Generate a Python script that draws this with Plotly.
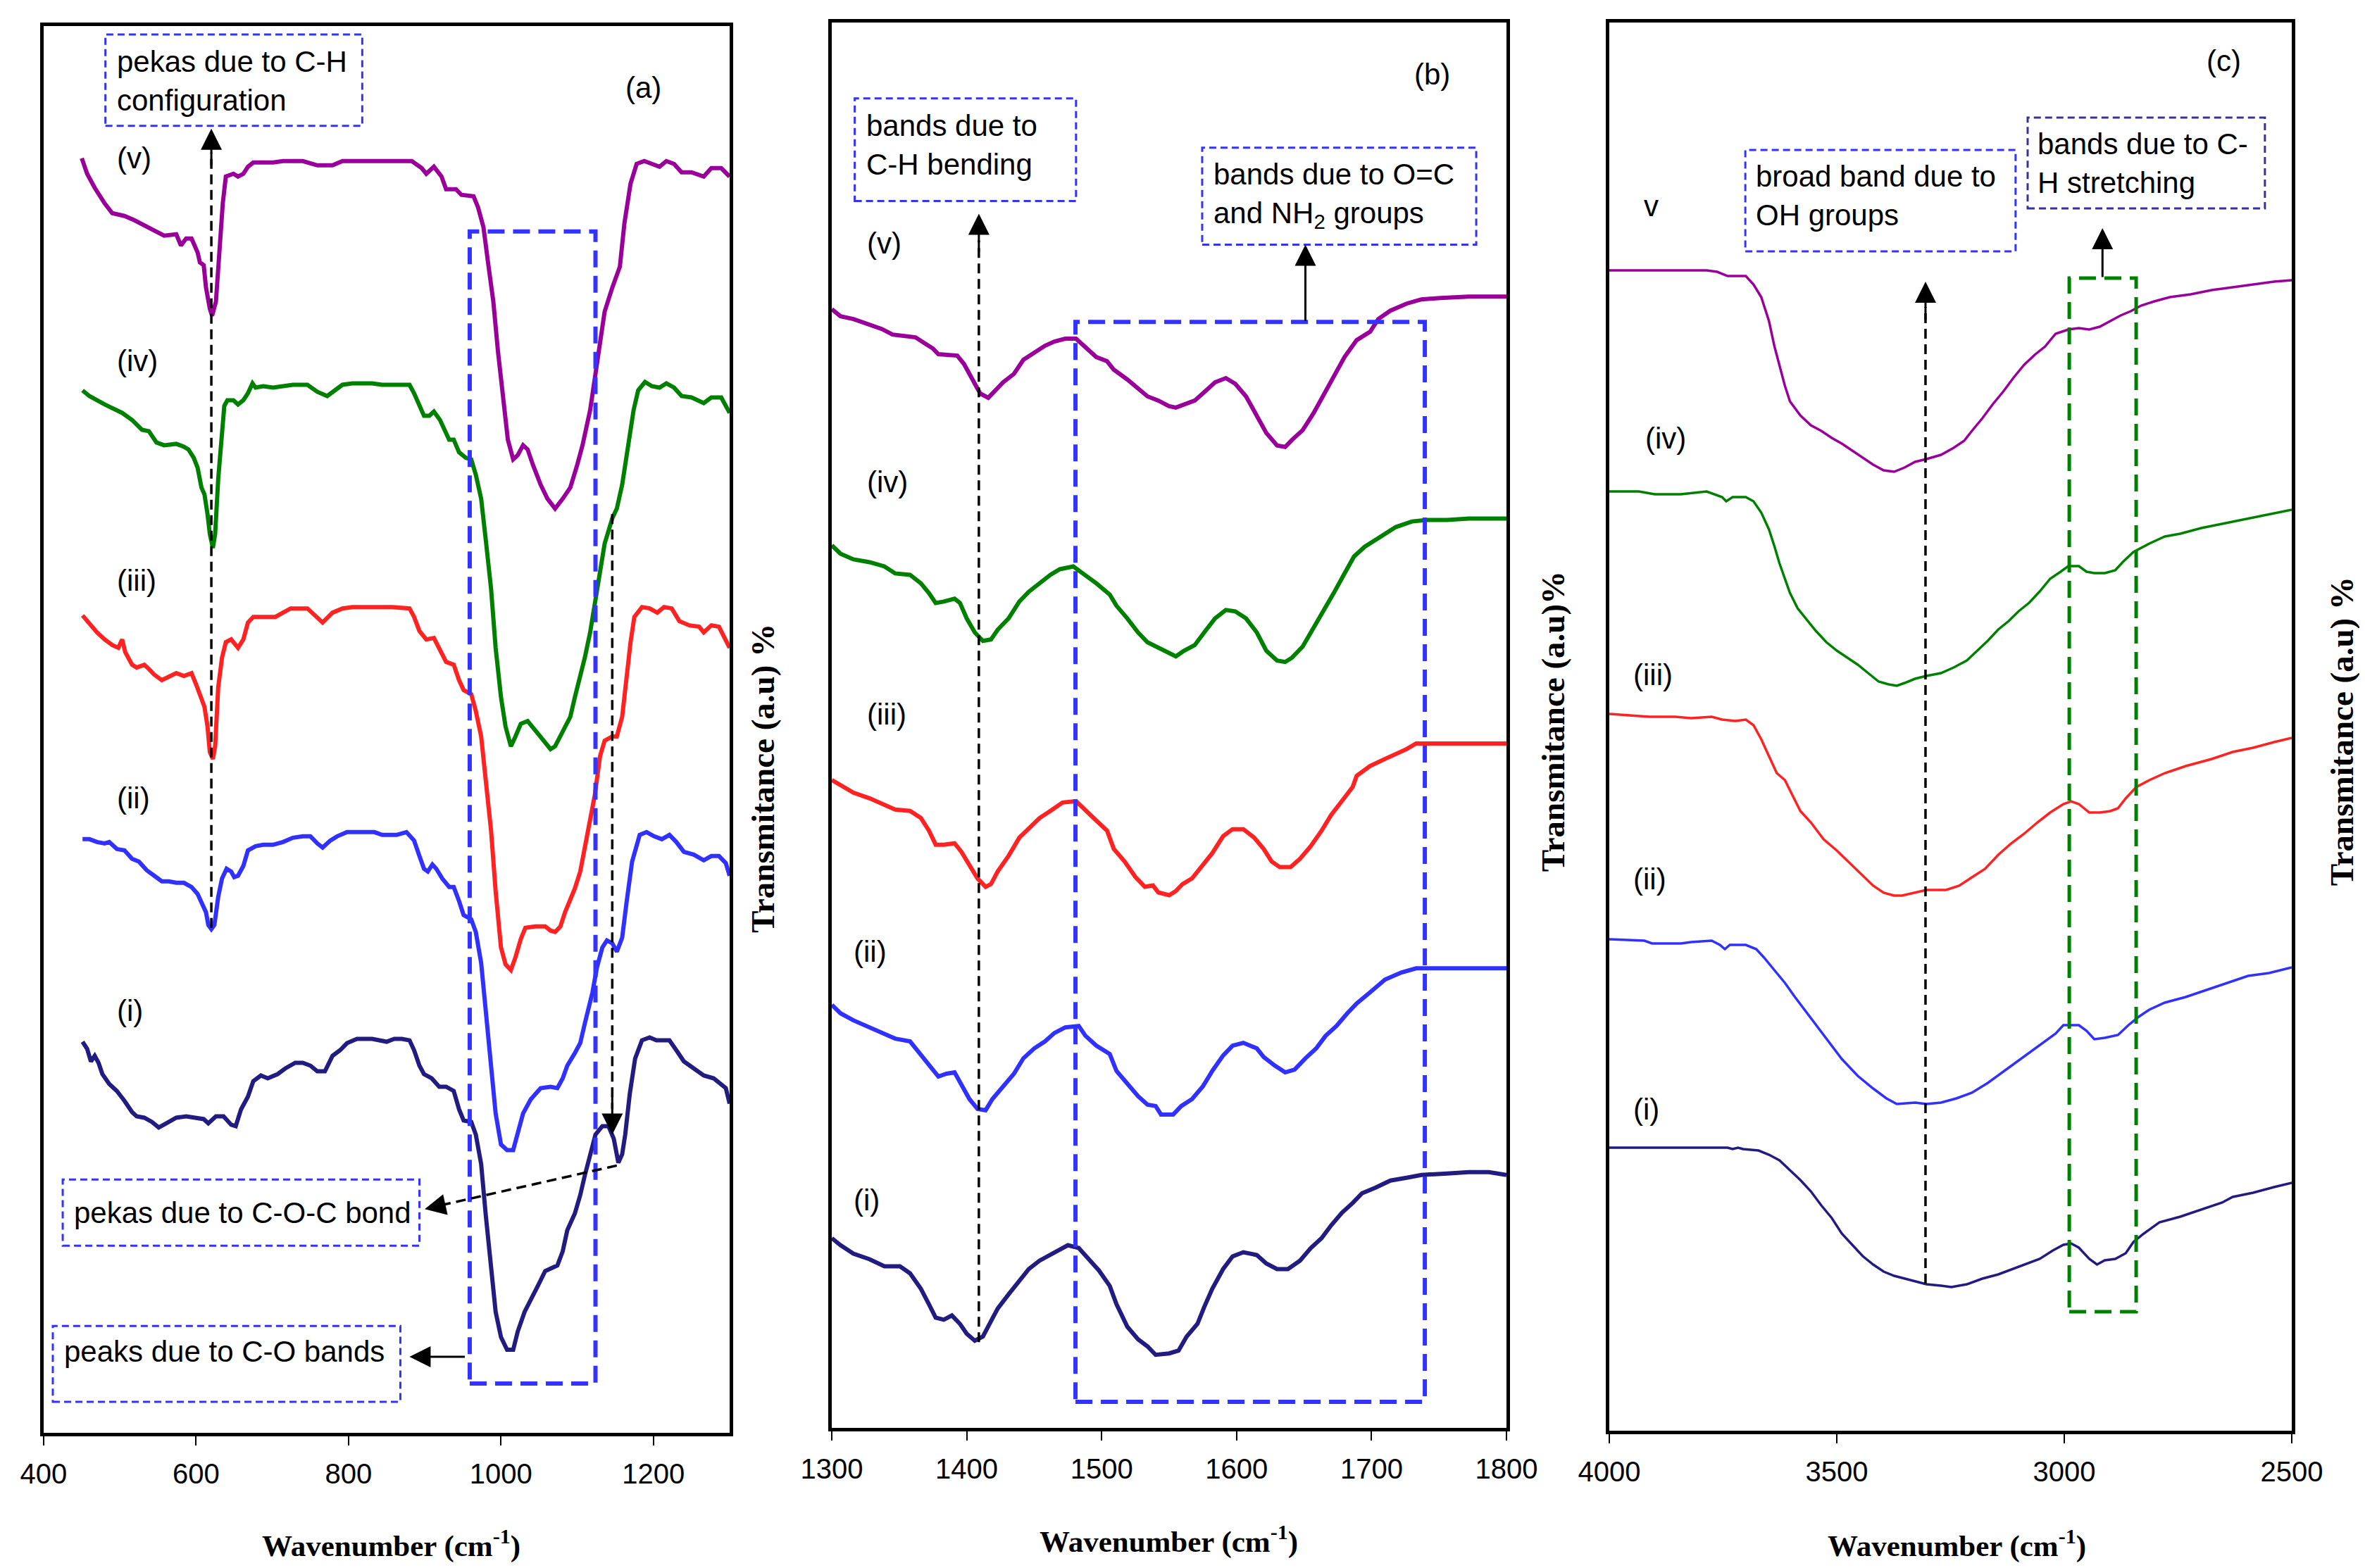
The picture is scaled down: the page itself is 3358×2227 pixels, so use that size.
import plotly.graph_objects as go

W, H = 3358, 2227

PURPLE = "#990099"
GREEN = "#008000"
RED = "#FF2222"
BLUE = "#3030FF"
NAVY = "#221C80"
BOXBLUE = "#3333FF"

# ---------------- panel (a): 400-1300 cm-1 ----------------
A5_X = [450, 457, 467, 480, 490, 506, 519, 538, 558, 574, 580, 587, 594, 602, 605, 610, 613, 618, 621, 626,
        631, 635, 639, 649, 655, 662, 668, 675, 701, 714, 740, 759, 779, 792, 805, 857, 883, 896, 902, 912,
        922, 928, 941, 948, 964, 970, 977, 983, 990, 996, 1003, 1009, 1016, 1022, 1029, 1035, 1042, 1052, 1061, 1071,
        1081, 1091, 1100, 1107, 1117, 1126, 1136, 1146, 1156, 1162, 1170, 1178, 1188, 1198, 1208, 1217, 1227, 1237, 1250, 1266,
        1276, 1289, 1300]
A5_Y = [90.6, 89.5, 88.5, 87.4, 86.7, 86.5, 86.2, 85.7, 85.1, 85.2, 84.4, 84.9, 84.9, 83.9, 83.2, 83.0, 81.4, 79.9, 79.4, 80.4,
        84.6, 87.4, 89.3, 89.5, 89.3, 89.5, 90.0, 90.3, 90.3, 90.4, 90.4, 90.1, 90.1, 90.4, 90.4, 90.4, 90.4, 89.9, 89.5, 90.0,
        89.3, 88.4, 88.4, 88.0, 87.9, 87.1, 85.7, 83.2, 80.4, 76.9, 73.4, 70.6, 69.2, 69.5, 70.2, 69.9, 68.8, 67.4, 66.4, 65.7,
        66.4, 67.2, 68.8, 70.2, 72.7, 76.2, 79.7, 81.4, 82.9, 86.0, 88.8, 90.2, 90.4, 90.2, 90.0, 90.4, 90.2, 89.6, 89.6, 89.3,
        89.9, 89.9, 89.3]

A4_X = [451, 460, 480, 503, 516, 529, 538, 548, 558, 574, 584, 590, 597, 602, 607, 611, 615, 618, 622, 625,
        629, 633, 637, 641, 649, 655, 662, 668, 674, 678, 688, 701, 714, 727, 746, 759, 772, 782, 792, 805,
        831, 844, 870, 880, 886, 893, 899, 906, 912, 920, 927, 932, 938, 945, 954, 961, 967, 974, 980, 987,
        993, 1000, 1006, 1013, 1019, 1026, 1035, 1045, 1055, 1065, 1071, 1081, 1091, 1097, 1104, 1110, 1117, 1123, 1130, 1136,
        1146, 1152, 1159, 1163, 1169, 1174, 1180, 1189, 1198, 1208, 1217, 1227, 1237, 1250, 1266, 1276, 1289, 1300]
A4_Y = [74.1, 73.7, 73.1, 72.5, 72.0, 71.3, 71.2, 70.4, 70.2, 70.3, 70.1, 69.9, 69.3, 68.6, 67.2, 66.7, 65.3, 63.9, 62.9, 63.9,
        67.8, 70.6, 73.0, 73.4, 73.4, 73.1, 73.4, 73.9, 74.6, 74.3, 74.4, 74.3, 74.4, 74.5, 74.5, 74.0, 73.7, 74.1, 74.5, 74.6,
        74.6, 74.5, 74.5, 74.5, 73.9, 73.0, 72.3, 72.3, 72.6, 72.0, 71.2, 70.6, 70.6, 69.7, 69.3, 69.2, 68.1, 66.4, 63.5, 60.0,
        55.8, 52.3, 50.2, 48.8, 49.5, 50.4, 50.6, 49.9, 49.2, 48.6, 48.8, 49.9, 50.9, 52.3, 53.7, 55.1, 56.9, 59.0, 61.4, 63.2,
        65.0, 65.7, 67.4, 68.8, 70.9, 72.7, 74.1, 74.7, 74.4, 74.3, 74.6, 74.3, 73.7, 73.6, 73.2, 73.6, 73.6, 72.5]

A3_X = [451, 460, 470, 480, 490, 498, 503, 507, 516, 522, 532, 538, 545, 555, 564, 574, 584, 594, 600, 607,
        611, 615, 618, 622, 625, 629, 634, 639, 646, 655, 662, 668, 675, 688, 704, 714, 724, 737, 746, 756,
        766, 779, 792, 805, 857, 880, 886, 893, 902, 912, 920, 928, 938, 945, 951, 961, 967, 974, 980, 987,
        993, 1000, 1006, 1013, 1019, 1026, 1032, 1045, 1058, 1065, 1071, 1078, 1084, 1091, 1097, 1104, 1110, 1117, 1123, 1130,
        1136, 1146, 1152, 1159, 1165, 1170, 1175, 1185, 1195, 1205, 1214, 1224, 1234, 1247, 1260, 1266, 1276, 1286, 1300]
A3_Y = [58.1, 57.5, 56.9, 56.4, 56.0, 55.8, 56.4, 55.5, 54.6, 54.4, 54.6, 54.3, 53.9, 53.5, 53.7, 54.0, 53.8, 54.0, 53.2, 52.3,
        51.6, 50.2, 48.4, 47.9, 48.8, 53.0, 55.1, 56.2, 56.4, 55.8, 56.4, 57.6, 58.0, 58.0, 58.0, 58.3, 58.6, 58.6, 58.6, 58.1,
        57.6, 58.3, 58.6, 58.7, 58.7, 58.6, 58.0, 57.0, 56.4, 56.5, 55.6, 54.8, 54.6, 53.5, 52.8, 52.5, 51.3, 49.5, 46.4, 42.8,
        38.5, 34.5, 33.3, 32.9, 33.8, 35.1, 35.9, 36.0, 36.0, 35.7, 35.6, 36.0, 37.0, 37.9, 38.7, 39.9, 41.7, 43.5, 45.3, 48.1,
        49.2, 49.5, 49.5, 50.9, 54.1, 56.2, 58.0, 58.7, 58.6, 58.3, 58.7, 58.6, 57.7, 57.4, 57.3, 56.9, 57.4, 57.3, 55.8]

A2_X = [451, 460, 470, 480, 486, 496, 506, 516, 525, 535, 545, 555, 564, 574, 584, 594, 602, 609, 613, 616,
        620, 624, 629, 634, 640, 646, 650, 655, 662, 668, 678, 688, 701, 714, 727, 740, 750, 759, 766, 776,
        785, 798, 818, 834, 844, 863, 876, 886, 893, 899, 904, 910, 915, 923, 932, 938, 945, 951, 961, 967,
        974, 980, 987, 993, 1000, 1008, 1016, 1022, 1029, 1039, 1052, 1065, 1074, 1081, 1087, 1097, 1104, 1110, 1120, 1126,
        1133, 1139, 1146, 1152, 1159, 1165, 1172, 1182, 1191, 1201, 1211, 1221, 1230, 1240, 1253, 1266, 1276, 1286, 1295, 1300]
A2_Y = [42.2, 42.2, 42.0, 41.9, 42.0, 41.5, 41.4, 40.8, 40.6, 40.0, 39.6, 39.2, 39.2, 39.1, 39.1, 38.8, 38.3, 37.4, 37.0, 36.1,
        35.8, 36.1, 38.1, 39.4, 40.1, 39.9, 39.5, 39.6, 40.3, 41.4, 41.7, 41.8, 41.8, 42.0, 42.3, 42.4, 42.4, 41.9, 41.6, 42.1,
        42.4, 42.7, 42.7, 42.7, 42.5, 42.5, 42.7, 42.1, 41.0, 40.1, 39.9, 40.4, 40.1, 39.4, 38.8, 38.8, 37.8, 36.8, 36.5, 35.6,
        33.4, 30.2, 26.2, 22.7, 20.5, 20.1, 20.1, 21.2, 22.7, 23.7, 24.5, 24.6, 24.5, 25.2, 26.1, 27.0, 27.7, 29.1, 31.3, 33.1,
        34.5, 35.0, 34.8, 34.2, 35.2, 37.8, 40.6, 42.5, 42.7, 42.4, 42.2, 42.5, 42.0, 41.3, 41.1, 40.7, 41.0, 41.0, 40.5, 39.6]

A1_X = [451, 457, 462, 467, 472, 477, 486, 496, 506, 516, 522, 532, 542, 551, 561, 574, 587, 600, 610, 616,
        626, 636, 646, 652, 659, 668, 675, 685, 694, 707, 717, 730, 740, 750, 759, 769, 779, 789, 798, 811,
        831, 850, 860, 870, 880, 886, 893, 899, 909, 919, 928, 938, 945, 951, 961, 967, 974, 980, 987, 993,
        1000, 1008, 1016, 1022, 1031, 1039, 1048, 1058, 1068, 1074, 1081, 1087, 1097, 1104, 1110, 1117, 1124, 1133, 1141, 1148,
        1154, 1159, 1163, 1169, 1176, 1185, 1195, 1204, 1221, 1230, 1240, 1253, 1266, 1279, 1289, 1295, 1300]
A1_Y = [27.8, 27.3, 26.4, 26.8, 26.3, 25.5, 24.8, 24.3, 23.6, 22.8, 22.5, 22.4, 22.1, 21.7, 22.0, 22.4, 22.5, 22.4, 22.3, 22.0,
        22.5, 22.5, 21.9, 21.8, 23.0, 23.9, 25.0, 25.4, 25.2, 25.5, 25.9, 26.3, 26.3, 26.1, 25.7, 25.7, 26.8, 27.2, 27.7, 28.0,
        28.0, 27.8, 28.0, 28.0, 27.9, 27.2, 26.1, 25.5, 25.2, 24.6, 24.6, 24.3, 23.0, 22.2, 22.1, 21.2, 19.1, 15.5, 11.9, 8.6,
        6.8, 5.9, 5.9, 7.2, 8.6, 9.4, 10.4, 11.5, 11.7, 11.9, 12.9, 14.4, 15.6, 16.9, 18.3, 19.8, 21.2, 21.8, 21.8, 20.9,
        19.2, 19.8, 21.2, 24.1, 26.6, 27.9, 28.1, 27.9, 27.9, 27.2, 26.4, 25.9, 25.4, 25.2, 24.8, 24.5, 23.4]

# ---------------- panel (b): 1300-1800 cm-1 ----------------
B5_X = [1300, 1306.5, 1316, 1328, 1337, 1345, 1354, 1362, 1370, 1375, 1379, 1393, 1398, 1404, 1410, 1416, 1419, 1427, 1435, 1442,
        1450, 1458, 1465, 1473, 1481, 1488, 1496, 1504, 1509, 1519, 1527, 1534, 1542, 1550, 1555, 1561, 1569, 1576, 1584, 1592,
        1599, 1607, 1615, 1622, 1630, 1636, 1641, 1649, 1657, 1664, 1672, 1680, 1689, 1699, 1705, 1714, 1726, 1737, 1751, 1772, 1800]
B5_Y = [79.6, 79.1, 78.9, 78.5, 78.2, 77.8, 77.7, 77.6, 77.1, 76.8, 76.4, 76.3, 75.7, 74.7, 73.6, 73.3, 73.6, 74.4, 75.0, 76.0,
        76.5, 77.0, 77.3, 77.5, 77.5, 76.9, 76.2, 75.9, 75.3, 74.6, 74.0, 73.4, 73.1, 72.7, 72.6, 72.8, 73.1, 73.7, 74.4, 74.7,
        74.3, 73.4, 72.0, 70.8, 69.9, 69.8, 70.3, 71.0, 72.2, 73.4, 74.8, 76.2, 77.4, 78.0, 78.9, 79.5, 80.0, 80.3, 80.4, 80.5, 80.5]

B4_X = [1300, 1306.5, 1316, 1328, 1339, 1347, 1358, 1366, 1372, 1377, 1383, 1391, 1395, 1400, 1406, 1412, 1418, 1423, 1431, 1439,
        1446, 1454, 1462, 1469, 1479, 1486, 1496, 1506, 1511, 1519, 1527, 1534, 1542, 1550, 1555, 1561, 1569, 1576, 1584, 1592,
        1599, 1607, 1615, 1622, 1630, 1636, 1641, 1649, 1657, 1664, 1672, 1680, 1687, 1695, 1707, 1718, 1730, 1741, 1756, 1772, 1800]
B4_Y = [62.8, 62.2, 61.8, 61.6, 61.3, 60.8, 60.7, 60.1, 59.4, 58.7, 58.8, 59.0, 58.7, 57.6, 56.6, 56.0, 56.1, 56.8, 57.6, 58.8,
        59.5, 60.1, 60.7, 61.1, 61.3, 60.8, 60.1, 59.3, 58.5, 57.6, 56.6, 55.9, 55.5, 55.1, 54.9, 55.3, 55.7, 56.6, 57.6, 58.2,
        58.1, 57.6, 56.6, 55.3, 54.6, 54.5, 54.8, 55.6, 56.9, 58.0, 59.4, 60.8, 62.0, 62.7, 63.4, 64.1, 64.5, 64.6, 64.6, 64.7, 64.7]

B3_X = [1300, 1306.5, 1316, 1328, 1339, 1347, 1358, 1366, 1372, 1377, 1383, 1391, 1396, 1402, 1408, 1414, 1418, 1423, 1431, 1439,
        1446, 1454, 1462, 1471, 1481, 1486, 1494, 1504, 1509, 1517, 1525, 1532, 1538, 1542, 1550, 1555, 1560, 1567, 1575, 1582,
        1590, 1597, 1605, 1613, 1620, 1626, 1632, 1640, 1647, 1655, 1663, 1670, 1678, 1686, 1689, 1699, 1710, 1726, 1733, 1800]
B3_Y = [46.1, 45.7, 45.2, 44.8, 44.3, 44.0, 43.9, 43.4, 42.5, 41.5, 41.5, 41.6, 41.0, 40.1, 39.1, 38.5, 38.7, 39.6, 40.7, 42.0,
        42.7, 43.4, 43.9, 44.5, 44.6, 44.1, 43.4, 42.5, 41.2, 40.3, 39.2, 38.5, 38.6, 38.1, 37.9, 38.2, 38.7, 39.1, 40.0, 40.9,
        42.1, 42.6, 42.6, 42.0, 41.2, 40.3, 39.9, 39.9, 40.5, 41.4, 42.5, 43.6, 44.6, 45.6, 46.4, 47.1, 47.6, 48.3, 48.7, 48.7]

B2_X = [1300, 1306.5, 1316, 1328, 1339, 1347, 1358, 1366, 1374, 1379, 1385, 1391, 1396, 1402, 1408, 1414, 1419, 1427, 1435, 1442,
        1450, 1458, 1465, 1473, 1483, 1488, 1496, 1506, 1511, 1519, 1527, 1534, 1540, 1544, 1553, 1559, 1567, 1575, 1582, 1590,
        1597, 1605, 1615, 1620, 1628, 1636, 1643, 1651, 1659, 1666, 1674, 1682, 1689, 1699, 1710, 1722, 1733, 1756, 1800]
B2_Y = [30.1, 29.5, 29.0, 28.5, 28.1, 27.7, 27.5, 26.6, 25.6, 25.0, 25.2, 25.3, 24.5, 23.4, 22.7, 22.6, 23.4, 24.3, 25.2, 26.3,
        27.0, 27.5, 28.1, 28.5, 28.6, 27.9, 27.2, 26.6, 25.4, 24.5, 23.6, 23.0, 22.9, 22.3, 22.3, 22.9, 23.4, 24.3, 25.4, 26.5,
        27.2, 27.4, 27.0, 26.4, 25.8, 25.3, 25.5, 26.3, 27.0, 27.9, 28.6, 29.5, 30.2, 31.0, 31.9, 32.4, 32.7, 32.7, 32.7]

B1_X = [1300, 1306.5, 1316, 1328, 1339, 1350.5, 1358, 1366, 1372, 1377, 1383, 1389, 1395, 1400, 1406, 1412, 1418, 1423, 1431, 1439,
        1446, 1454, 1462, 1469, 1475, 1483, 1490, 1498, 1506, 1511, 1519, 1527, 1534, 1540, 1550, 1557, 1563, 1571, 1576, 1582,
        1590, 1597, 1605, 1615, 1622, 1630, 1638, 1647, 1655, 1663, 1670, 1678, 1686, 1693, 1703, 1714, 1726, 1737, 1756, 1772,
        1787, 1800]
B1_Y = [13.5, 13.0, 12.4, 12.0, 11.5, 11.5, 11.0, 9.9, 8.8, 7.85, 7.7, 8.0, 7.4, 6.7, 6.2, 6.5, 7.6, 8.5, 9.5, 10.4,
        11.3, 11.9, 12.3, 12.7, 13.0, 12.8, 12.0, 11.2, 10.1, 8.8, 7.2, 6.3, 5.8, 5.2, 5.3, 5.5, 6.5, 7.4, 8.6, 9.9,
        11.3, 12.2, 12.5, 12.3, 11.7, 11.3, 11.3, 11.9, 12.8, 13.5, 14.4, 15.3, 16.0, 16.7, 17.1, 17.6, 17.8, 18.0, 18.1, 18.2,
        18.2, 18.0]

# ---------------- panel (c): 4000-2500 cm-1 ----------------
C5_X = [4000, 3912, 3889, 3843, 3786, 3763, 3740, 3700, 3683, 3666, 3649, 3637, 3626, 3614, 3603, 3580, 3557, 3534, 3511, 3489,
        3466, 3443, 3420, 3397, 3374, 3351, 3328, 3303, 3271, 3243, 3220, 3203, 3180, 3157, 3134, 3111, 3088, 3065, 3042, 3019,
        2991, 2968, 2945, 2922, 2899, 2876, 2854, 2831, 2802, 2768, 2722, 2676, 2630, 2585, 2539, 2500]
C5_Y = [82.4, 82.4, 82.4, 82.4, 82.4, 82.3, 82.0, 82.0, 81.4, 80.5, 78.8, 77.0, 75.6, 74.2, 73.1, 72.1, 71.4, 71.0, 70.5, 70.1,
        69.6, 69.1, 68.6, 68.2, 68.1, 68.4, 68.8, 69.0, 69.3, 69.8, 70.3, 71.0, 71.9, 72.9, 73.8, 74.8, 75.7, 76.4, 77.0, 77.9,
        78.2, 78.3, 78.2, 78.4, 78.8, 79.2, 79.5, 79.9, 80.2, 80.5, 80.7, 81.0, 81.2, 81.4, 81.6, 81.7]

C4_X = [4000, 3935, 3900, 3843, 3786, 3769, 3752, 3743, 3729, 3700, 3683, 3666, 3649, 3637, 3626, 3614, 3603, 3586, 3569, 3546,
        3523, 3500, 3477, 3454, 3431, 3408, 3386, 3368, 3351, 3328, 3303, 3271, 3243, 3214, 3191, 3168, 3145, 3122, 3100, 3077,
        3054, 3031, 3008, 2991, 2968, 2951, 2934, 2911, 2888, 2871, 2848, 2813, 2779, 2745, 2699, 2653, 2608, 2562, 2500]
C4_Y = [66.7, 66.7, 66.5, 66.5, 66.7, 66.5, 66.3, 66.0, 66.3, 66.3, 66.0, 65.2, 64.0, 62.8, 61.6, 60.5, 59.5, 58.4, 57.7, 56.8,
        56.0, 55.4, 54.9, 54.4, 53.8, 53.2, 53.0, 52.9, 53.1, 53.4, 53.6, 53.8, 54.2, 54.7, 55.4, 56.1, 56.9, 57.5, 58.2, 58.8,
        59.6, 60.5, 61.0, 61.4, 61.4, 61.0, 60.9, 60.9, 61.1, 61.7, 62.4, 63.0, 63.5, 63.7, 64.1, 64.4, 64.7, 65.0, 65.4]

C3_X = [4000, 3958, 3912, 3855, 3820, 3775, 3752, 3723, 3700, 3683, 3666, 3649, 3632, 3614, 3597, 3580, 3557, 3529, 3500, 3471,
        3443, 3420, 3397, 3374, 3357, 3328, 3303, 3260, 3231, 3203, 3174, 3145, 3117, 3088, 3059, 3031, 3002, 2985, 2968, 2945,
        2922, 2899, 2882, 2865, 2842, 2813, 2779, 2733, 2676, 2630, 2585, 2539, 2500]
C3_Y = [50.9, 50.8, 50.7, 50.7, 50.6, 50.7, 50.5, 50.4, 50.5, 50.1, 49.1, 47.9, 46.7, 46.2, 45.1, 44.0, 43.2, 42.0, 41.2, 40.3,
        39.4, 38.7, 38.2, 38.0, 38.0, 38.2, 38.4, 38.4, 38.7, 39.3, 39.9, 40.9, 41.7, 42.4, 43.2, 43.9, 44.5, 44.7, 44.5, 43.9,
        43.9, 44.0, 44.2, 44.9, 45.7, 46.2, 46.7, 47.2, 47.7, 48.2, 48.5, 48.9, 49.2]

C2_X = [4000, 3923, 3906, 3843, 3820, 3775, 3757, 3746, 3735, 3700, 3677, 3660, 3637, 3614, 3592, 3557, 3523, 3489, 3454, 3420,
        3391, 3368, 3328, 3303, 3271, 3237, 3203, 3168, 3134, 3100, 3071, 3042, 3019, 3002, 2968, 2951, 2934, 2911, 2882, 2859,
        2836, 2813, 2779, 2733, 2688, 2642, 2596, 2550, 2500]
C2_Y = [34.9, 34.8, 34.6, 34.6, 34.7, 34.8, 34.5, 34.2, 34.5, 34.5, 34.2, 33.6, 32.7, 31.8, 30.8, 29.3, 27.9, 26.4, 25.2, 24.3,
        23.6, 23.2, 23.3, 23.2, 23.3, 23.6, 24.0, 24.7, 25.5, 26.3, 27.0, 27.7, 28.2, 28.8, 28.8, 28.4, 27.8, 27.9, 28.1, 28.8,
        29.4, 29.9, 30.4, 30.8, 31.3, 31.8, 32.3, 32.5, 32.9]

C1_X = [4000, 3889, 3740, 3729, 3717, 3706, 3672, 3649, 3626, 3603, 3580, 3557, 3534, 3511, 3489, 3466, 3443, 3420, 3397, 3374,
        3351, 3328, 3303, 3271, 3248, 3214, 3180, 3145, 3111, 3077, 3054, 3025, 3002, 2985, 2968, 2945, 2928, 2911, 2888, 2865,
        2848, 2825, 2791, 2745, 2699, 2653, 2630, 2585, 2539, 2500]
C1_Y = [20.1, 20.1, 20.1, 20.0, 20.1, 20.0, 19.9, 19.6, 19.2, 18.5, 17.8, 17.0, 16.0, 15.1, 14.0, 13.2, 12.4, 11.8, 11.3, 11.0,
        10.8, 10.6, 10.4, 10.3, 10.2, 10.4, 10.8, 11.1, 11.5, 11.9, 12.2, 12.8, 13.2, 13.3, 13.0, 12.2, 11.8, 12.1, 12.2, 12.6,
        13.4, 14.0, 14.8, 15.2, 15.7, 16.2, 16.6, 16.9, 17.3, 17.6]

SAMPLE_LABELS = ["(i)", "(ii)", "(iii)", "(iv)", "(v)"]
COLORS = [NAVY, BLUE, RED, GREEN, PURPLE]

A_TICKS = [400, 600, 800, 1000, 1200]
B_TICKS = [1300, 1400, 1500, 1600, 1700, 1800]
C_TICKS = [4000, 3500, 3000, 2500]

SANS = "Liberation Sans, Arial, sans-serif"
SERIF = "Liberation Serif, Times New Roman, serif"

fig = go.Figure()

panels = [
    ("x", "y", [(A1_X, A1_Y), (A2_X, A2_Y), (A3_X, A3_Y), (A4_X, A4_Y), (A5_X, A5_Y)], 6),
    ("x2", "y2", [(B1_X, B1_Y), (B2_X, B2_Y), (B3_X, B3_Y), (B4_X, B4_Y), (B5_X, B5_Y)], 6),
    ("x3", "y3", [(C1_X, C1_Y), (C2_X, C2_Y), (C3_X, C3_Y), (C4_X, C4_Y), (C5_X, C5_Y)], 3.5),
]
for xa, ya, curves, lw in panels:
    for (cx, cy), col in zip(curves, COLORS):
        fig.add_scatter(x=cx, y=cy, mode="lines", xaxis=xa, yaxis=ya,
                        line=dict(color=col, width=lw), hoverinfo="skip")


def xaxis(domain, rng, ticks, anchor):
    return dict(domain=domain, range=rng, anchor=anchor, tickvals=ticks,
                ticks="outside", ticklen=13, tickwidth=1.5, tickcolor="black",
                showline=True, linewidth=5, linecolor="black", mirror=True,
                showgrid=False, zeroline=False, ticklabelstandoff=6, automargin=False,
                tickfont=dict(family=SANS, size=40, color="black"))


def yaxis(domain, anchor):
    return dict(domain=domain, range=[0, 100], anchor=anchor, automargin=False,
                showline=True, linewidth=5, linecolor="black", mirror=True,
                showgrid=False, zeroline=False, showticklabels=False, ticks="")


shapes = []
ann = []


def box(xr, yr, x0, x1, y0, y1, color, width, dash):
    shapes.append(dict(type="rect", xref=xr, yref=yr, x0=x0, x1=x1, y0=y0, y1=y1,
                       line=dict(color=color, width=width, dash=dash)))


def dline(xr, yr, x0, y0, x1, y1):
    shapes.append(dict(type="line", xref=xr, yref=yr, x0=x0, y0=y0, x1=x1, y1=y1,
                       line=dict(color="black", width=3.5, dash="14px,8px")))


def head(xr, yr, x, y, ax, ay):
    ann.append(dict(xref=xr, yref=yr, axref=xr, ayref=yr, x=x, y=y, ax=ax, ay=ay,
                    text="", showarrow=True, arrowhead=2, arrowsize=2.0,
                    arrowwidth=3, arrowcolor="black"))


def txt(xr, yr, x, y, s, size=42, xanchor="left"):
    ann.append(dict(xref=xr, yref=yr, x=x, y=y, text=s, showarrow=False,
                    xanchor=xanchor, yanchor="middle", align="left",
                    font=dict(family=SANS, size=size, color="black")))


TB = "10px,6px"
BIG = "24px,12px"

# panel (a)
box("x", "y", 481, 818, 92.9, 99.4, BOXBLUE, 3, TB)
txt("x", "y", 494, 96.1, "pekas due to C-H<br>configuration")
txt("x", "y", 1187, 95.6, "(a)", xanchor="center")
dline("x", "y", 620, 35.9, 620, 91.0)
head("x", "y", 620, 92.7, 620, 90.0)
box("x", "y", 959, 1124, 3.5, 85.4, BOXBLUE, 6, BIG)
dline("x", "y", 1146, 65.3, 1146, 23.0)
head("x", "y", 1146, 21.2, 1146, 24.0)
box("x", "y", 425, 893, 13.3, 18.0, BOXBLUE, 3, TB)
txt("x", "y", 438, 15.65, "pekas due to C-O-C bond")
dline("x", "y", 1152, 19.0, 915, 16.1)
head("x", "y", 900, 15.9, 925, 16.2)
box("x", "y", 412, 868, 2.2, 7.6, BOXBLUE, 3, TB)
txt("x", "y", 425, 5.8, "peaks due to C-O bands")
head("x", "y", 880, 5.4, 954, 5.4)
for lab, yy, xx in zip(SAMPLE_LABELS, [30.0, 45.1, 60.6, 76.2, 90.6], [494] * 5):
    txt("x", "y", xx, yy, lab)

# panel (b)
txt("x2", "y2", 1745, 96.3, "(b)", xanchor="center")
box("x2", "y2", 1317, 1481, 87.3, 94.6, BOXBLUE, 3, TB)
txt("x2", "y2", 1324.5, 91.3, "bands due to<br>C-H bending")
box("x2", "y2", 1574.5, 1777.6, 84.2, 91.1, BOXBLUE, 3, TB)
txt("x2", "y2", 1582, 87.7, "bands due to O=C<br>and NH<sub>2</sub> groups")
box("x2", "y2", 1480.6, 1739.5, 1.85, 78.7, BOXBLUE, 6, BIG)
dline("x2", "y2", 1409, 6.1, 1409, 84.5)
head("x2", "y2", 1409, 86.4, 1409, 83.6)
head("x2", "y2", 1651, 84.2, 1651, 78.7)
for lab, yy, xx in zip(SAMPLE_LABELS, [16.2, 33.9, 50.8, 67.3, 84.3], [1315, 1315, 1325, 1325, 1325]):
    txt("x2", "y2", xx, yy, lab)

# panel (c)
txt("x3", "y3", 2650, 97.3, "(c)", xanchor="center")
box("x3", "y3", 3701, 3107, 83.75, 90.95, BOXBLUE, 3, TB)
txt("x3", "y3", 3681, 87.7, "broad band due to<br>OH groups")
box("x3", "y3", 3080.5, 2559, 86.8, 93.25, "#333399", 3, TB)
txt("x3", "y3", 3062, 90.0, "bands due to C-<br>H stretching")
box("x3", "y3", 2989, 2842, 8.45, 81.85, GREEN, 5, BIG)
dline("x3", "y3", 3305, 10.45, 3305, 79.8)
head("x3", "y3", 3305, 81.6, 3305, 78.8)
head("x3", "y3", 2916, 85.4, 2916, 81.85)
for lab, yy, xx in zip(["(i)", "(ii)", "(iii)", "(iv)", "v"], [22.85, 39.2, 53.7, 70.5, 87.0],
                       [3950, 3950, 3950, 3924, 3927]):
    txt("x3", "y3", xx, yy, lab)

# axis titles
XT = "<b>Wavenumber (cm<sup>-1</sup>)</b>"
for xp, yp in [(0.1629, 0.0189), (0.4917, 0.0220), (0.8249, 0.0189)]:
    ann.append(dict(xref="paper", yref="paper", x=xp, y=yp, text=XT, showarrow=False,
                    xanchor="center", yanchor="middle",
                    font=dict(family=SERIF, size=43, color="black")))
for xp, yp, s in [(0.3201, 0.5074, "Transmitance (a.u) %"),
                  (0.6543, 0.5433, "Transmitance (a.u)%"),
                  (0.9878, 0.5370, "Transmitance (a.u) %")]:
    ann.append(dict(xref="paper", yref="paper", x=xp, y=yp, text="<b>" + s + "</b>",
                    showarrow=False, textangle=-90, xanchor="center", yanchor="middle",
                    font=dict(family=SERIF, size=47, color="black")))

fig.update_layout(
    width=W, height=H, margin=dict(l=0, r=0, t=0, b=0, pad=0, autoexpand=False),
    paper_bgcolor="white", plot_bgcolor="white", showlegend=False,
    xaxis=xaxis([0.01608, 0.30613], [400, 1300], A_TICKS, "y"),
    yaxis=yaxis([0.08981, 0.98698], "x"),
    xaxis2=xaxis([0.34932, 0.63460], [1300, 1800], B_TICKS, "y2"),
    yaxis2=yaxis([0.09295, 0.98922], "x2"),
    xaxis3=xaxis([0.67808, 0.96665], [4000, 2500], C_TICKS, "y3"),
    yaxis3=yaxis([0.09115, 0.98922], "x3"),
    shapes=shapes, annotations=ann,
)

fig.write_html("out.html")
